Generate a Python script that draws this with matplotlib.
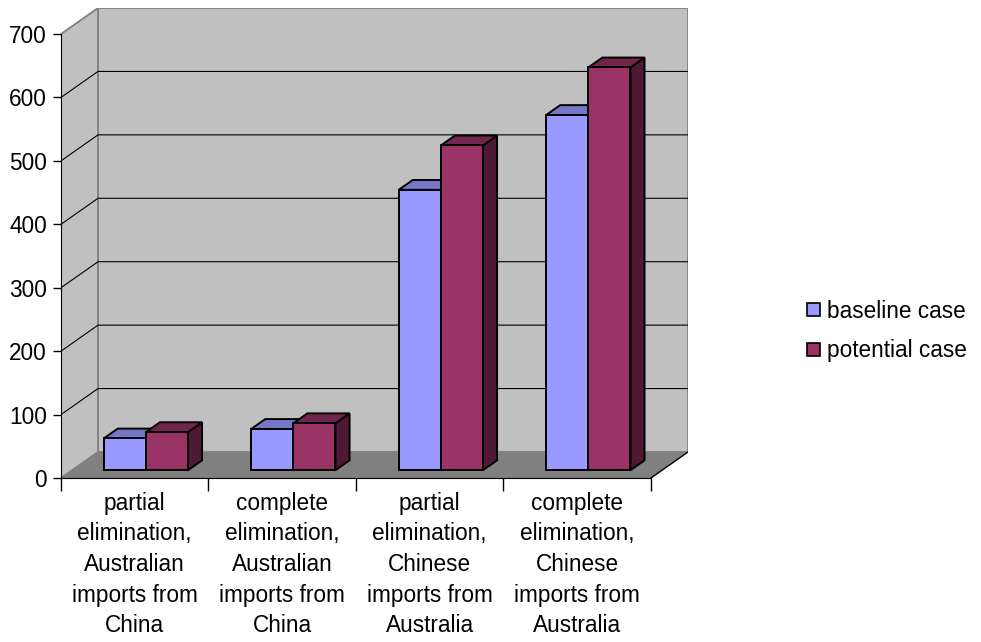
import matplotlib
matplotlib.use("Agg")
import matplotlib.pyplot as plt
from matplotlib.patches import Polygon, Patch

plt.rcParams["font.family"] = ["Liberation Sans", "DejaVu Sans"]

categories = [
    "partial\nelimination,\nAustralian\nimports from\nChina",
    "complete\nelimination,\nAustralian\nimports from\nChina",
    "partial\nelimination,\nChinese\nimports from\nAustralia",
    "complete\nelimination,\nChinese\nimports from\nAustralia",
]
baseline = [50, 65, 442, 560]
potential = [60, 74, 512, 635]
series_names = ["baseline case", "potential case"]
y_ticks = [0, 100, 200, 300, 400, 500, 600, 700]

YMAX = 700
DX, DY = 0.251, 41.0          # full depth of the 3d box, in data units
F0, F1 = 0.30, 0.68           # bar front/back as fraction of depth
GAP = 1.5                     # Excel gap width 150%
FS = 16.3

FRONT = {"baseline case": "#9999ff", "potential case": "#993366"}
TOP = {"baseline case": "#7777c8", "potential case": "#73264d"}
SIDE = {"baseline case": "#5c5c99", "potential case": "#4d1933"}


def p(x, v, f):
    return (x + f * DX, v + f * DY)


def box(ax, x0, w, h, name, z):
    front = [p(x0, 0, F0), p(x0 + w, 0, F0), p(x0 + w, h, F0), p(x0, h, F0)]
    top = [p(x0, h, F0), p(x0 + w, h, F0), p(x0 + w, h, F1), p(x0, h, F1)]
    side = [p(x0 + w, 0, F0), p(x0 + w, 0, F1), p(x0 + w, h, F1), p(x0 + w, h, F0)]
    for pts, c in ((side, SIDE[name]), (top, TOP[name]), (front, FRONT[name])):
        ax.add_patch(Polygon(pts, closed=True, facecolor=c, edgecolor="black",
                             lw=1.4, joinstyle="miter", zorder=z))


fig = plt.figure(figsize=(9.81, 6.42), dpi=100)
W, H = 981, 642
ax = fig.add_axes([61 / W, (H - 478) / H, 627 / W, 470 / H])
ax.set_xlim(0, 4 + DX)
ax.set_ylim(0, YMAX + DY)
ax.patch.set_visible(False)

# walls and floor
ax.add_patch(Polygon([p(0, 0, 1), p(4, 0, 1), p(4, YMAX, 1), p(0, YMAX, 1)],
                     facecolor="#c0c0c0", edgecolor="#808080", lw=1.3, zorder=0))
ax.add_patch(Polygon([(0, 0), p(0, 0, 1), p(0, YMAX, 1), (0, YMAX)],
                     facecolor="#c0c0c0", edgecolor="#808080", lw=1.3, zorder=0))
for v in y_ticks[1:-1]:
    ax.plot([0, DX, 4 + DX], [v, v + DY, v + DY], color="black", lw=0.8, zorder=1)
ax.add_patch(Polygon([(0, 0), (4, 0), p(4, 0, 1), p(0, 0, 1)],
                     facecolor="#808080", edgecolor="none", zorder=1))
ax.plot([4, 4 + DX], [0, DY], color="black", lw=1.0, zorder=1)

# bars
w = 1 / (2 + GAP)
for i in range(len(categories)):
    x0 = i + GAP * w / 2
    box(ax, x0, w, baseline[i], series_names[0], 3 + 2 * i)
    box(ax, x0 + w, w, potential[i], series_names[1], 4 + 2 * i)

# axes
for s in ("top", "right"):
    ax.spines[s].set_visible(False)
ax.spines["left"].set_bounds(0, YMAX)
ax.spines["bottom"].set_bounds(0, 4)
ax.spines["left"].set_zorder(2)
ax.spines["bottom"].set_zorder(2)
ax.set_yticks(y_ticks)
ax.tick_params(axis="y", direction="out", length=6, width=1, pad=4, labelsize=FS)
ax.set_xticks(range(5))
ax.set_xticklabels([])
ax.set_xticks([i + 0.5 for i in range(4)], minor=True)
ax.set_xticklabels(categories, minor=True, fontsize=FS, linespacing=1.42)
ax.tick_params(axis="x", which="major", direction="out", length=9, width=1)
ax.tick_params(axis="x", which="minor", length=0, pad=10)

handles = [Patch(facecolor=FRONT[n], edgecolor="black", lw=1.2) for n in series_names]
fig.legend(handles, series_names, loc="center left", bbox_to_anchor=(796 / W, 1 - 331 / H),
           frameon=False, fontsize=FS, handlelength=0.55, handleheight=0.55,
           handletextpad=0.3, labelspacing=0.75, borderpad=0)

fig.savefig("out.png", dpi=100)
